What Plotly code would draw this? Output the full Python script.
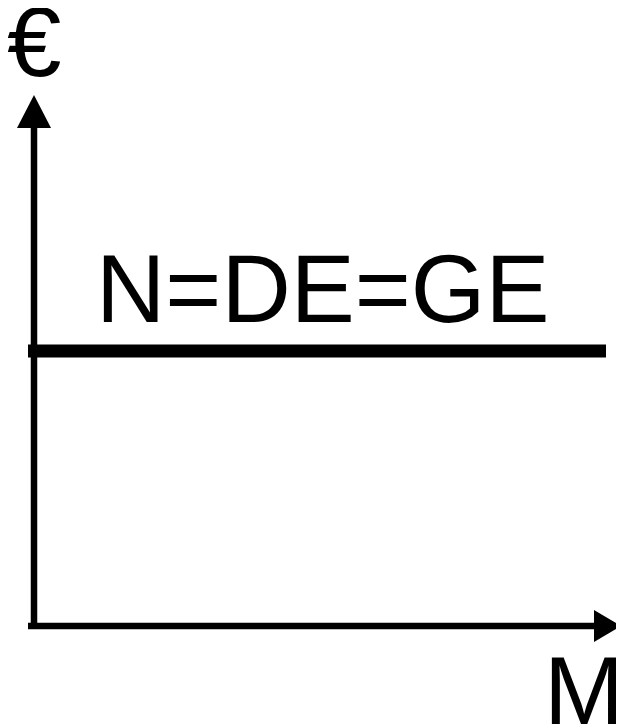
import plotly.graph_objects as go

# axis extents (arrow tips) and the horizontal N=DE=GE line
axis_x = [-6, 587]        # quantity axis M, start and tip
axis_y = [-3, 531]        # euro axis, start and tip
level_x = [-6, 572]
level_y = [275, 275]
level_label = "N=DE=GE"
x_title = "M"
y_title = "€"

FONT = "Liberation Sans, Arial, sans-serif"
HEAD_X = (27, 16)   # length, half width
HEAD_Y = (33, 17)

fig = go.Figure()

# axes lines (stop at arrow base)
fig.add_trace(go.Scatter(x=[axis_x[0], axis_x[1] - HEAD_X[0]], y=[0, 0], mode="lines",
                         line=dict(color="black", width=6.5), hoverinfo="skip"))
fig.add_trace(go.Scatter(x=[0, 0], y=[axis_y[0], axis_y[1] - HEAD_Y[0]], mode="lines",
                         line=dict(color="black", width=6.5), hoverinfo="skip"))

# arrow heads
tx = axis_x[1]
fig.add_trace(go.Scatter(x=[tx, tx - HEAD_X[0], tx - HEAD_X[0], tx],
                         y=[0, HEAD_X[1], -HEAD_X[1], 0],
                         mode="lines", fill="toself", fillcolor="black",
                         line=dict(color="black", width=0), hoverinfo="skip"))
ty = axis_y[1]
fig.add_trace(go.Scatter(x=[0, HEAD_Y[1], -HEAD_Y[1], 0],
                         y=[ty, ty - HEAD_Y[0], ty - HEAD_Y[0], ty],
                         mode="lines", fill="toself", fillcolor="black",
                         line=dict(color="black", width=0), hoverinfo="skip"))

# the level line
fig.add_trace(go.Scatter(x=level_x, y=level_y, mode="lines",
                         line=dict(color="black", width=13), hoverinfo="skip"))

fig.add_annotation(x=288.5, y=337.5, text=level_label, showarrow=False,
                   xanchor="center", yanchor="middle",
                   font=dict(family=FONT, size=96, color="black"))
fig.add_annotation(x=550, y=-64.5, text=x_title, showarrow=False,
                   xanchor="center", yanchor="middle",
                   font=dict(family=FONT, size=96, color="black"))
fig.add_annotation(x=0, y=584, text=y_title, showarrow=False,
                   xanchor="center", yanchor="middle",
                   font=dict(family=FONT, size=98, color="black"))

# page body has an 8px margin, so the figure is 616x720 and shifted
fig.update_layout(
    width=616, height=720,
    margin=dict(l=0, r=0, t=0, b=0),
    plot_bgcolor="white", paper_bgcolor="white",
    showlegend=False,
    xaxis=dict(range=[-26, 590], visible=False, fixedrange=True),
    yaxis=dict(range=[-102, 618], visible=False, fixedrange=True),
)

fig.write_html("out.html")
